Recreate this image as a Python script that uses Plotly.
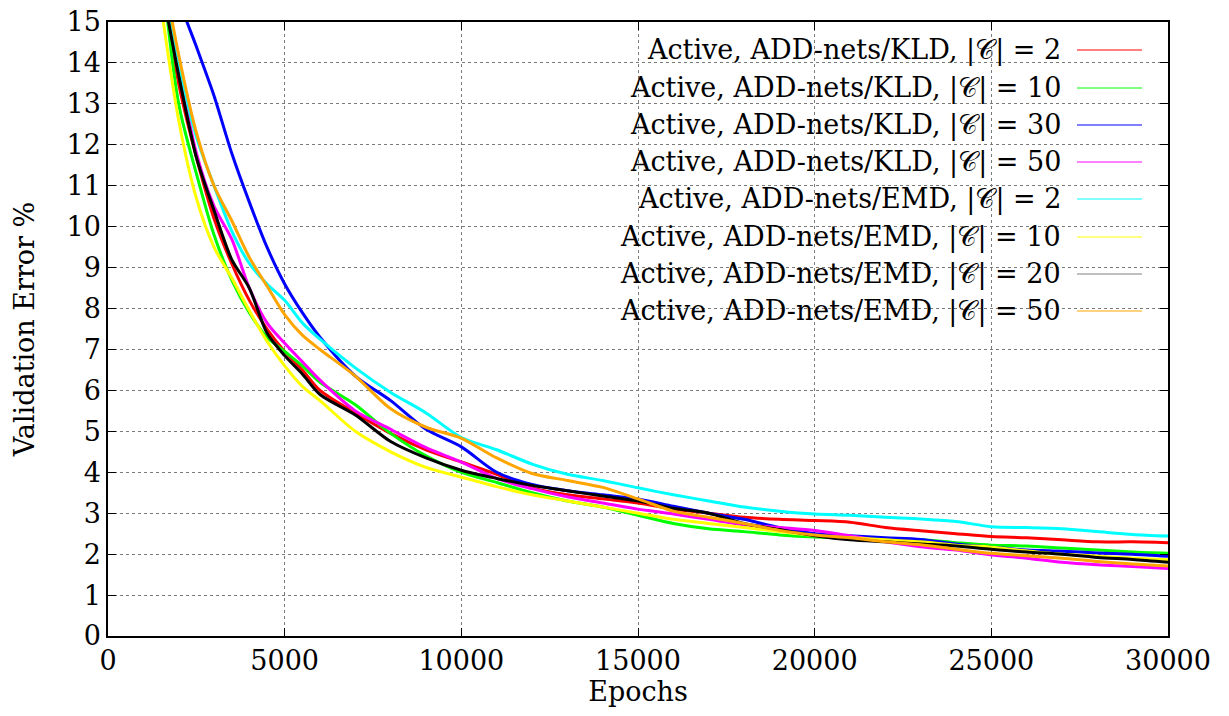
import plotly.graph_objects as go

epochs = [1500, 2000, 2500, 3000, 3500, 4000, 4500, 5000, 5500, 6000, 7000, 8000, 9000, 10000,
          11000, 12000, 13000, 14000, 15000, 16000, 17000, 18000, 19000, 20000, 21000, 22000,
          23000, 24000, 25000, 26000, 27000, 28000, 29000, 30000]

kld_2 = [16.2, 13.5, 11.7, 10.2, 9.1, 8.2, 7.5, 6.95, 6.5, 6.0, 5.45, 4.95, 4.55, 4.25,
         3.95, 3.62, 3.45, 3.35, 3.25, 3.1, 3.0, 2.9, 2.85, 2.82, 2.78, 2.65,
         2.57, 2.5, 2.43, 2.4, 2.35, 2.3, 2.3, 2.28]
kld_10 = [16.5, 13.0, 11.3, 9.8, 8.7, 7.9, 7.3, 6.95, 6.6, 6.2, 5.65, 4.95, 4.4, 4.0,
          3.75, 3.5, 3.3, 3.15, 2.95, 2.75, 2.62, 2.55, 2.47, 2.42, 2.4, 2.37,
          2.35, 2.28, 2.22, 2.2, 2.15, 2.1, 2.05, 2.02]
kld_30 = [18.0, 15.6, 14.4, 13.2, 11.8, 10.6, 9.5, 8.6, 7.9, 7.3, 6.35, 5.75, 5.05, 4.62,
          4.0, 3.7, 3.55, 3.45, 3.35, 3.17, 3.0, 2.85, 2.65, 2.5, 2.45, 2.4,
          2.36, 2.25, 2.17, 2.1, 2.07, 2.03, 2.0, 1.95]
kld_50 = [16.5, 13.9, 11.8, 10.5, 9.7, 8.5, 7.65, 7.15, 6.7, 6.25, 5.5, 5.05, 4.6, 4.25,
          3.85, 3.6, 3.4, 3.25, 3.1, 2.98, 2.85, 2.72, 2.65, 2.58, 2.45, 2.3,
          2.18, 2.1, 1.98, 1.9, 1.8, 1.74, 1.7, 1.65]
emd_2 = [16.5, 14.0, 12.2, 11.0, 9.9, 9.1, 8.6, 8.2, 7.65, 7.25, 6.55, 5.95, 5.45, 4.85,
         4.55, 4.2, 3.95, 3.8, 3.62, 3.45, 3.3, 3.15, 3.05, 2.98, 2.95, 2.9,
         2.86, 2.8, 2.67, 2.65, 2.62, 2.55, 2.48, 2.44]
emd_10 = [15.4, 12.6, 10.7, 9.5, 8.75, 7.95, 7.2, 6.6, 6.1, 5.75, 5.0, 4.5, 4.12, 3.88,
          3.65, 3.45, 3.3, 3.15, 3.0, 2.85, 2.75, 2.65, 2.55, 2.45, 2.4, 2.35,
          2.3, 2.22, 2.17, 2.08, 2.0, 1.95, 1.9, 1.86]
emd_20 = [16.0, 13.7, 11.7, 10.4, 9.2, 8.5, 7.4, 6.85, 6.4, 5.9, 5.4, 4.75, 4.35, 4.05,
          3.85, 3.68, 3.55, 3.42, 3.3, 3.12, 3.0, 2.75, 2.6, 2.45, 2.35, 2.3,
          2.25, 2.2, 2.12, 2.05, 2.0, 1.92, 1.87, 1.8]
emd_50 = [16.5, 14.2, 12.3, 11.0, 10.15, 9.25, 8.55, 7.85, 7.35, 7.0, 6.35, 5.55, 5.1, 4.83,
          4.35, 3.97, 3.8, 3.63, 3.35, 3.05, 2.9, 2.75, 2.58, 2.47, 2.4, 2.3,
          2.23, 2.12, 2.02, 1.96, 1.9, 1.82, 1.76, 1.71]

names = [
    "Active, ADD-nets/KLD, |𝒞| = 2",
    "Active, ADD-nets/KLD, |𝒞| = 10",
    "Active, ADD-nets/KLD, |𝒞| = 30",
    "Active, ADD-nets/KLD, |𝒞| = 50",
    "Active, ADD-nets/EMD, |𝒞| = 2",
    "Active, ADD-nets/EMD, |𝒞| = 10",
    "Active, ADD-nets/EMD, |𝒞| = 20",
    "Active, ADD-nets/EMD, |𝒞| = 50",
]
series = [kld_2, kld_10, kld_30, kld_50, emd_2, emd_10, emd_20, emd_50]
colors = ["#ff0000", "#00ff00", "#0000ff", "#ff00ff", "#00ffff", "#ffff00", "#000000", "#ffa500"]
legend_colors = ["#ff0000", "#00ff00", "#0000ff", "#ff00ff", "#00ffff", "#ffff00", "#808080", "#ffa500"]
x_ticks = [0, 5000, 10000, 15000, 20000, 25000, 30000]
y_ticks = list(range(0, 16))

FONT = "DejaVu Serif"
W, H = 1229, 716
ML, MR, MT, MB = 108, 61, 22, 80
PW, PH = W - ML - MR, H - MT - MB

fig = go.Figure()
for name, ys, c in zip(names, series, colors):
    fig.add_trace(go.Scatter(x=epochs, y=ys, mode="lines", name=name,
                             line=dict(color=c, width=3, shape="spline", smoothing=0.8),
                             showlegend=False))

def px2paper_x(px):
    return (px - ML) / PW

def px2paper_y(py):
    return (H - MB - py) / PH

shapes = []
annotations = []
# white legend box hiding the grid
shapes.append(dict(type="rect", xref="paper", yref="paper", layer="between",
                   x0=px2paper_x(614), x1=px2paper_x(1152), y0=px2paper_y(332), y1=1.0,
                   fillcolor="white", line=dict(width=0)))
row_y = [50, 88, 125, 162, 199, 237, 274, 311]
for name, c, ry in zip(names, legend_colors, row_y):
    annotations.append(dict(xref="paper", yref="paper", x=px2paper_x(1063), y=px2paper_y(ry),
                            text=name, showarrow=False, xanchor="right", yanchor="middle",
                            font=dict(family=FONT, size=27, color="black")))
    shapes.append(dict(type="line", xref="paper", yref="paper",
                       x0=px2paper_x(1077), x1=px2paper_x(1142),
                       y0=px2paper_y(ry), y1=px2paper_y(ry),
                       line=dict(color=c, width=1)))

axis_common = dict(showline=True, linecolor="black", linewidth=1.5, mirror="ticks",
                   ticks="inside", ticklen=8, tickwidth=1, tickcolor="black",
                   showgrid=True, gridcolor="#7a7a7a", griddash="dot", gridwidth=1,
                   zeroline=False, tickfont=dict(family=FONT, size=27, color="black"))

fig.update_layout(
    width=W, height=H,
    margin=dict(l=ML, r=MR, t=MT, b=MB, autoexpand=False),
    plot_bgcolor="white", paper_bgcolor="white",
    shapes=shapes, annotations=annotations,
    xaxis=dict(range=[0, 30000], tickvals=x_ticks, ticktext=[str(v) for v in x_ticks],
               title=dict(text="Epochs", font=dict(family=FONT, size=27, color="black"), standoff=4),
               **axis_common),
    yaxis=dict(range=[0, 15], tickvals=y_ticks, ticktext=[str(v) for v in y_ticks],
               title=dict(text="Validation Error %", font=dict(family=FONT, size=27, color="black"), standoff=24),
               **axis_common),
)

fig.write_html("out.html", config={"displayModeBar": False},
               post_script="document.body.style.margin='0';")
